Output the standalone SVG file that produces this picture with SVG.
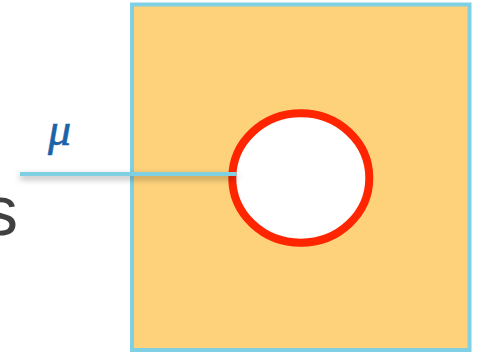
<svg xmlns="http://www.w3.org/2000/svg" width="484" height="354" viewBox="0 0 484 354">
<style>
.box{fill:#FDD27B;stroke:#80D0E3;stroke-width:4}
.hole{fill:#FFFFFF;stroke:#FF2500;stroke-width:8}
.wire{stroke:#80D0E3;stroke-width:4;fill:none}
.mu{font-family:"Liberation Serif",serif;font-style:italic;font-size:46px;fill:#1A63A8;stroke:#1A63A8;stroke-width:0.6}
.s{font-family:"Liberation Sans",sans-serif;font-size:70px;fill:#404040}
</style>
<defs>
<filter id="sh" filterUnits="userSpaceOnUse" x="0" y="160" width="260" height="35">
<feDropShadow dx="0" dy="3" stdDeviation="3" flood-color="#000" flood-opacity="0.35"/>
</filter>
</defs>
<text class="s" x="-17" y="235">s</text>
<g id="square"><rect class="box" x="132" y="4.5" width="337.5" height="345.5"/></g>
<g id="hole"><ellipse class="hole" cx="300.8" cy="178" rx="68.5" ry="64.7"/></g>
<g id="connectors"><line class="wire" x1="20" y1="174" x2="236.5" y2="174" filter="url(#sh)"/></g>
<text class="mu" x="48" y="145">μ</text>
</svg>
